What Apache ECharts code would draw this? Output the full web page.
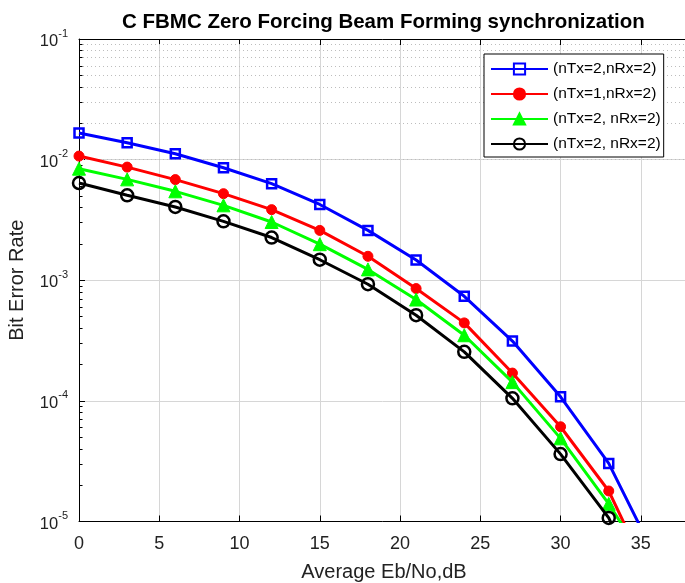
<!DOCTYPE html>
<html>
<head>
<meta charset="utf-8">
<script src="https://cdn.jsdelivr.net/npm/echarts@6/dist/echarts.min.js"></script>
<style>
html,body{margin:0;padding:0;background:#fff;}
#chart{width:685px;height:583px;}
</style>
</head>
<body>
<div id="chart"></div>
<script>
// ---- data ----
var snrDb = [0, 3, 6, 9, 12, 15, 18, 21, 24, 27, 30, 33, 36];
var seriesNames = ['(nTx=2,nRx=2)', '(nTx=1,nRx=2)', '(nTx=2, nRx=2)', '(nTx=2, nRx=2)\u200b'];
var berBlue  = [0.0166, 0.0138, 0.0112, 0.00857, 0.00632, 0.00425, 0.00259, 0.00147, 7.36e-4, 3.13e-4, 1.08e-4, 3.03e-5, 4.8e-6];
var berRed   = [0.0107, 0.00867, 0.00683, 0.00522, 0.00385, 0.00259, 0.00158, 8.53e-4, 4.43e-4, 1.70e-4, 6.1e-5, 1.79e-5, 2.6e-6];
var berGreen = [0.00841, 0.00686, 0.00546, 0.00418, 0.00304, 0.00199, 0.00123, 6.92e-4, 3.50e-4, 1.43e-4, 4.89e-5, 1.40e-5, 3.3e-6];
var berBlack = [0.00640, 0.00506, 0.00405, 0.00308, 0.00226, 0.00148, 9.27e-4, 5.13e-4, 2.55e-4, 1.05e-4, 3.62e-5, 1.07e-5, 1.5e-6];
var xTicks = [0, 5, 10, 15, 20, 25, 30, 35];
var yDecades = [1e-5, 1e-4, 1e-3, 1e-2, 1e-1];
var yMinorMults = [2, 3, 4, 5, 6, 7, 8, 9];

var FONT = '"Liberation Sans", Arial, Helvetica, sans-serif';

function pairs(ys) { return snrDb.map(function (x, i) { return [x, ys[i]]; }); }

// minor log gridlines
var minorVals = [];
for (var d = 0; d < yDecades.length - 1; d++) {
  for (var m = 0; m < yMinorMults.length; m++) minorVals.push(yDecades[d] * yMinorMults[m]);
}

var chart = echarts.init(document.getElementById('chart'), null, {renderer: 'canvas'});

var colors = ['#0000ff', '#ff0000', '#00ff00', '#000000'];
var symbols = ['rect', 'circle', 'triangle', 'circle'];
var symSizes = [9, 10, 13, 12];
var filled = [false, true, true, false];
var data = [berBlue, berRed, berGreen, berBlack];

var series = [];
for (var i = 0; i < 4; i++) {
  series.push({
    name: seriesNames[i],
    type: 'line',
    data: pairs(data[i]),
    symbol: symbols[i],
    symbolSize: symSizes[i],
    showAllSymbol: true,
    clip: true,
    z: 3 + i,
    lineStyle: {color: colors[i], width: 3},
    itemStyle: filled[i]
      ? {color: colors[i], borderColor: colors[i], borderWidth: 1}
      : {color: 'rgba(255,255,255,0)', borderColor: colors[i], borderWidth: 2.5},
    emphasis: {disabled: true},
    animation: false
  });
}
// grid decorations: minor dotted lines
series[0].markLine = {
  silent: true,
  symbol: 'none',
  z: 1,
  label: {show: false},
  animation: false,
  lineStyle: {color: '#bdbdbd', type: [1, 3], width: 1},
  data: minorVals.map(function (v) { return {yAxis: v}; })
};
// minor tick marks on the left axis
series[1].markLine = {
  silent: true,
  symbol: 'none',
  z: 1,
  label: {show: false},
  animation: false,
  lineStyle: {color: '#000', type: 'solid', width: 1},
  data: minorVals.map(function (v) { return [{coord: [0, v]}, {coord: [0.22, v]}]; })
};

chart.setOption({
  animation: false,
  backgroundColor: '#fff',
  title: {
    text: 'C FBMC Zero Forcing Beam Forming synchronization',
    left: 117,
    top: 7,
    textStyle: {fontFamily: FONT, fontSize: 20.5, fontWeight: 'bold', color: '#000'}
  },
  legend: {
    show: true,
    orient: 'vertical',
    left: 484,
    top: 54,
    data: seriesNames,
    itemWidth: 57,
    itemHeight: 14,
    itemGap: 9,
    padding: [7, 3, 5, 6],
    borderColor: '#000',
    borderWidth: 1,
    backgroundColor: '#fff',
    textStyle: {fontFamily: FONT, fontSize: 15.5, color: '#000'},
    selectedMode: false
  },
  grid: {
    left: 79,
    top: 39,
    right: -4,
    bottom: 61.5,
    show: false,
    outerBoundsMode: 'none',
    containLabel: false
  },
  xAxis: [{
    type: 'value',
    min: 0,
    max: 38,
    interval: 5,
    name: 'Average Eb/No,dB',
    nameLocation: 'middle',
    nameGap: 41,
    nameTextStyle: {fontFamily: FONT, fontSize: 20, color: '#222'},
    axisLine: {show: true, lineStyle: {color: '#000', width: 1}},
    axisTick: {show: true, inside: true, length: 6, lineStyle: {color: '#000'}},
    axisLabel: {
      fontFamily: FONT, fontSize: 18, color: '#222', margin: 14,
      formatter: function (v) { return xTicks.indexOf(v) >= 0 ? String(v) : ''; }
    },
    splitLine: {show: true, lineStyle: {color: '#d6d6d6', width: 1}}
  }, {
    type: 'value',
    position: 'top',
    min: 0,
    max: 38,
    interval: 5,
    axisLine: {show: true, lineStyle: {color: '#000', width: 1}},
    axisTick: {show: true, inside: true, length: 6, lineStyle: {color: '#000'}},
    axisLabel: {show: false},
    splitLine: {show: false}
  }],
  yAxis: {
    type: 'log',
    logBase: 10,
    min: 1e-5,
    max: 1e-1,
    name: 'Bit Error Rate',
    nameLocation: 'middle',
    nameGap: 52,
    nameTextStyle: {fontFamily: FONT, fontSize: 20, color: '#222'},
    axisLine: {show: true, lineStyle: {color: '#000', width: 1}},
    axisTick: {show: true, inside: true, length: 6, lineStyle: {color: '#000'}},
    minorTick: {show: false},
    axisLabel: {
      margin: 11,
      color: '#222',
      formatter: function (v) {
        var e = Math.round(Math.log(v) / Math.LN10);
        return '{b|10}{s|' + e + '}';
      },
      rich: {
        b: {fontFamily: FONT, fontSize: 16.5, color: '#222', lineHeight: 22, verticalAlign: 'bottom'},
        s: {fontFamily: FONT, fontSize: 11, color: '#222', lineHeight: 22, verticalAlign: 'top'}
      }
    },
    splitLine: {show: true, lineStyle: {color: '#d6d6d6', width: 1}}
  },
  series: series
});
</script>
</body>
</html>
